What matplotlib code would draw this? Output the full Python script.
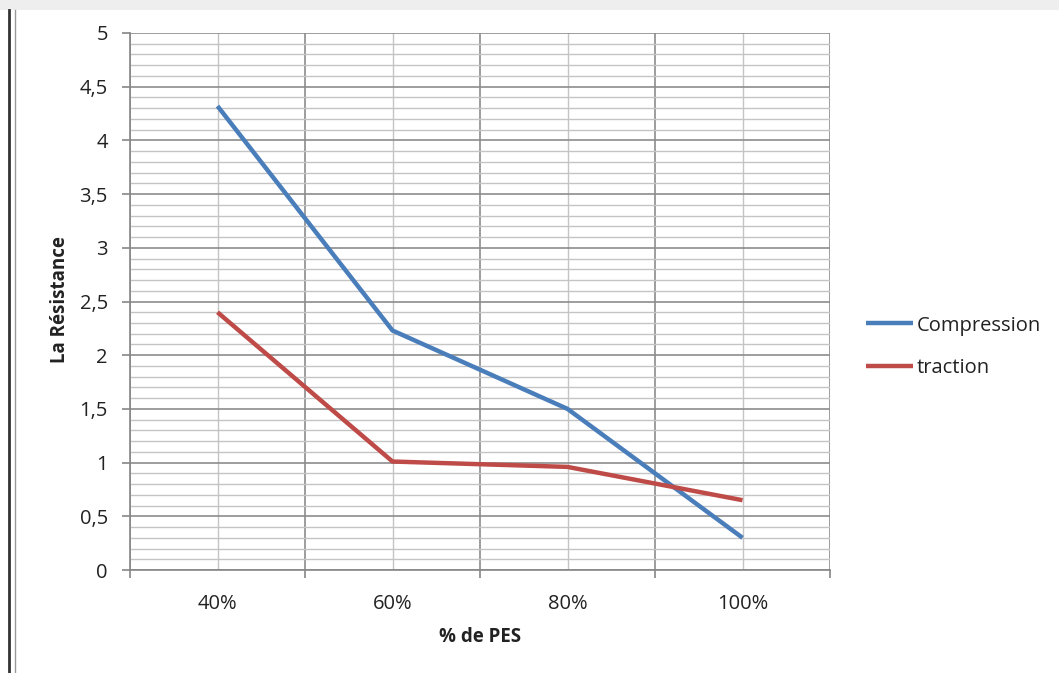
import matplotlib
matplotlib.use("Agg")
import matplotlib.pyplot as plt
from matplotlib.ticker import MultipleLocator, FixedLocator, FuncFormatter
from matplotlib.lines import Line2D
from matplotlib.patches import Rectangle

categories = ["40%", "60%", "80%", "100%"]
compression = [4.32, 2.23, 1.5, 0.3]
traction = [2.4, 1.01, 0.96, 0.65]
series_names = ["Compression", "traction"]
colors = ["#4A7EBB", "#BE4B48"]

plt.rcParams['font.family'] = ['Open Sans', 'DejaVu Sans']
FS = 14.5
LFS = 13.5

fig = plt.figure(figsize=(10.59, 6.73), dpi=100)
ax = fig.add_axes([130/1059, 1-570/673, 700/1059, 537/673])

x = list(range(len(categories)))
ax.plot(x, compression, color=colors[0], lw=3.2, label=series_names[0], solid_capstyle='butt', zorder=3)
ax.plot(x, traction, color=colors[1], lw=3.2, label=series_names[1], solid_capstyle='butt', zorder=3)

ax.set_xlim(-0.5, len(categories) - 0.5)
ax.set_ylim(0, 5)

# x axis: labels at centers, ticks at boundaries
ax.xaxis.set_major_locator(FixedLocator(x))
ax.set_xticklabels(categories)
ax.xaxis.set_minor_locator(FixedLocator([i - 0.5 for i in range(len(categories) + 1)]))
ax.tick_params(axis='x', which='major', length=0, pad=17, labelsize=FS, labelcolor='#222222')
ax.tick_params(axis='x', which='minor', length=6, color='#868686', width=1.2)

# y axis
ax.yaxis.set_major_locator(MultipleLocator(0.5))
ax.yaxis.set_minor_locator(MultipleLocator(0.1))
ax.yaxis.set_major_formatter(FuncFormatter(lambda v, p: ("%g" % v).replace('.', ',')))
ax.tick_params(axis='y', which='major', length=6, color='#868686', width=1.2, pad=10, labelsize=FS, labelcolor='#222222')
ax.tick_params(axis='y', which='minor', length=0)

# grids
ax.yaxis.grid(True, which='major', color='#8c8c8c', lw=1.2)
ax.yaxis.grid(True, which='minor', color='#c4c4c4', lw=1.0)
ax.xaxis.grid(True, which='minor', color='#8c8c8c', lw=1.2)
ax.xaxis.grid(True, which='major', color='#c4c4c4', lw=1.0)
ax.set_axisbelow(True)

for s in ['top', 'right']:
    ax.spines[s].set_visible(False)
for s in ['left', 'bottom']:
    ax.spines[s].set_color('#868686')
    ax.spines[s].set_linewidth(1.2)

ax.set_xlabel("% de PES", fontsize=LFS, fontweight='bold', color='#222222', va='center')
ax.set_ylabel("La Résistance", fontsize=LFS, fontweight='bold', color='#222222', va='center')
ax.xaxis.set_label_coords(0.5, (570 - 637) / 537)
ax.yaxis.set_label_coords((60 - 130) / 700, 0.503)

leg = ax.legend(loc='center left', bbox_to_anchor=(1.051, 0.416), frameon=False,
                fontsize=FS, handlelength=2.35, handletextpad=0.2, labelspacing=1.1,
                borderaxespad=0, borderpad=0)
for t in leg.get_texts():
    t.set_color('#222222')

# window decorations
fig.patches.append(Rectangle((0, 1-10/673), 1, 10/673, transform=fig.transFigure,
                             facecolor='#eeeeee', edgecolor='none'))
fig.lines.append(Line2D([8.5/1059, 8.5/1059], [0, 1-10/673], transform=fig.transFigure, color='#333333', lw=2))
fig.lines.append(Line2D([14.5/1059, 14.5/1059], [0, 1-10/673], transform=fig.transFigure, color='#999999', lw=1))

fig.savefig("out.png", dpi=100)
